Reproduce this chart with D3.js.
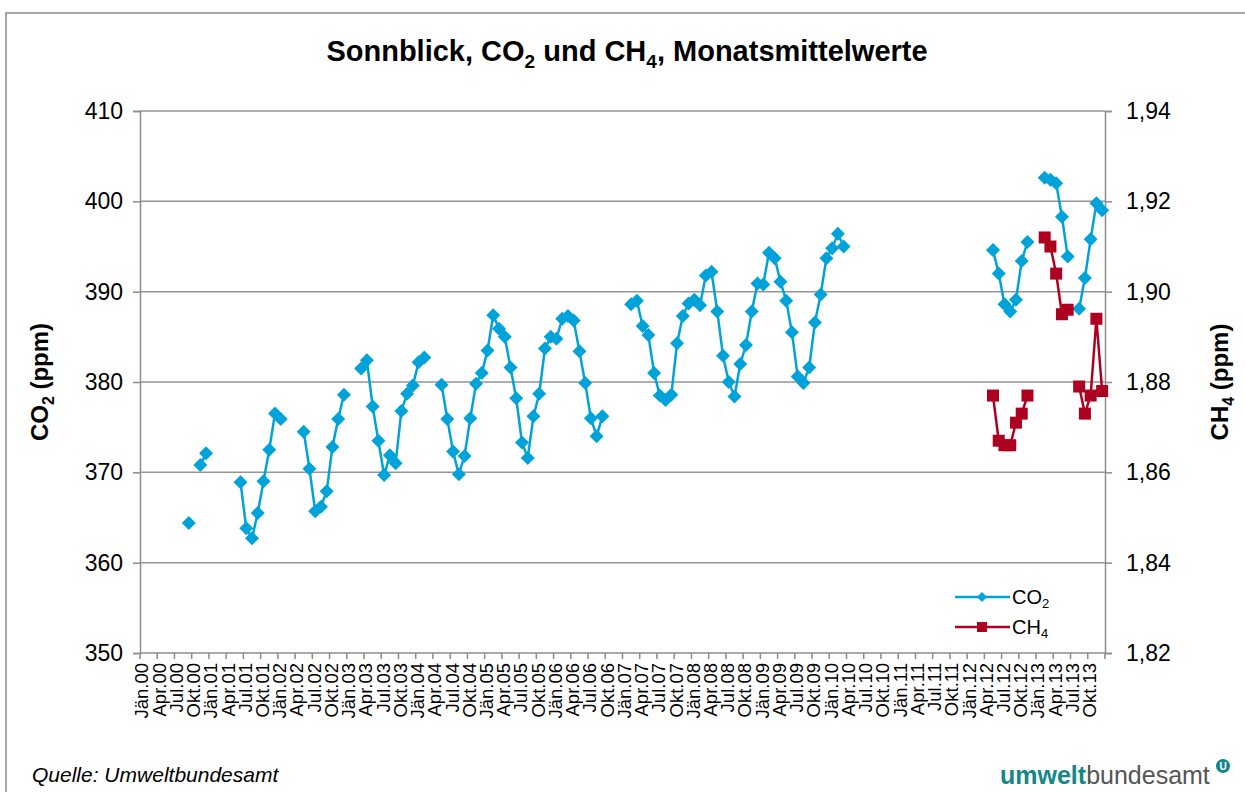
<!DOCTYPE html>
<html>
<head>
<meta charset="utf-8">
<script src="https://cdn.jsdelivr.net/npm/d3@7"></script>
<style>
  body { margin: 0; background: #fff; }
  text { font-family: Arial, "Liberation Sans", sans-serif; }
</style>
</head>
<body>
<div id="chart"></div>
<script>
// months Jan 2000 .. Dec 2013, one value per month (null = no value)
var years = ["00","01","02","03","04","05","06","07","08","09","10","11","12","13"];
var tickMonths = ["Jän","Apr","Jul","Okt"];   // every 3rd month gets a label

var co2 = [
  null,null,null,null,null,null,null,null,364.4,null,370.8,372.1,          // 2000
  null,null,null,null,null,368.9,363.8,362.7,365.5,369.0,372.5,376.5,      // 2001
  375.9,null,null,null,374.5,370.4,365.7,366.2,367.9,372.8,375.9,378.6,    // 2002
  null,null,381.5,382.4,377.3,373.5,369.7,371.9,371.0,376.8,378.7,379.6,   // 2003
  382.2,382.7,null,null,379.7,375.9,372.3,369.8,371.8,376.0,379.8,381.0,   // 2004
  383.5,387.4,385.9,385.0,381.6,378.2,373.3,371.6,376.2,378.7,383.7,385.0, // 2005
  384.8,387.0,387.3,386.8,383.4,379.9,376.0,374.0,376.2,null,null,null,    // 2006
  null,388.6,389.0,386.2,385.2,381.0,378.5,378.0,378.6,384.3,387.3,388.7,  // 2007
  389.1,388.5,391.8,392.2,387.8,382.9,380.0,378.4,382.0,384.1,387.8,390.9, // 2008
  390.8,394.3,393.7,391.1,389.0,385.5,380.6,379.9,381.6,386.6,389.7,393.7, // 2009
  394.8,396.4,395.0,null,null,null,null,null,null,null,null,null,          // 2010
  null,null,null,null,null,null,null,null,null,null,null,null,             // 2011
  null,null,null,null,394.6,392.0,388.6,387.8,389.1,393.4,395.5,null,      // 2012
  null,402.6,402.4,402.0,398.3,393.9,null,388.1,391.5,395.8,399.8,399.0    // 2013
];

var ch4 = [];
for (var k = 0; k < 144; k++) ch4.push(null);   // no CH4 values before 2012
ch4 = ch4.concat([
  null,null,null,null,1.877,1.867,1.866,1.866,1.871,1.873,1.877,null,      // 2012
  null,1.912,1.910,1.904,1.895,1.896,null,1.879,1.873,1.877,1.894,1.878    // 2013
]);

var co2Ticks = [350,360,370,380,390,400,410];
var ch4Ticks = [1.82,1.84,1.86,1.88,1.90,1.92,1.94];

var width = 1245, height = 792;
var plotLeft = 140, plotRight = 1105, plotTop = 111, plotBottom = 653;
var blue = "#00a3d9", red = "#ae0020";
var axisGrey = "#8c8c8c";

var svg = d3.select("#chart").append("svg")
    .attr("width", width)
    .attr("height", height);

// outer frame
svg.append("rect")
    .attr("x", 6).attr("y", 13)
    .attr("width", 1260).attr("height", 800)
    .attr("fill", "none")
    .attr("stroke", axisGrey)
    .attr("stroke-width", 1.5);

var x = d3.scaleBand()
    .domain(d3.range(co2.length))
    .range([plotLeft, plotRight])
    .padding(0);

var y = d3.scaleLinear().domain([350, 410]).range([plotBottom, plotTop]);
var y2 = d3.scaleLinear().domain([1.82, 1.94]).range([plotBottom, plotTop]);

function cx(i) { return x(i) + x.bandwidth() / 2; }

// gridlines
svg.append("g").selectAll("line")
    .data(co2Ticks.slice(1))
    .enter().append("line")
    .attr("x1", plotLeft).attr("x2", plotRight)
    .attr("y1", function(d){ return y(d); })
    .attr("y2", function(d){ return y(d); })
    .attr("stroke", "#959595")
    .attr("stroke-width", 1.5);

// left axis
var yAxis = d3.axisLeft(y).tickValues(co2Ticks).tickSize(7).tickPadding(10);
var gy = svg.append("g").attr("transform", "translate(" + plotLeft + ",0)").call(yAxis);
gy.select(".domain").attr("stroke", axisGrey).attr("stroke-width", 1.5);
gy.selectAll(".tick line").attr("stroke", axisGrey).attr("stroke-width", 1.5);
gy.selectAll(".tick text").attr("font-size", 23).attr("fill", "#000")
    .style("font-family", "Arial, 'Liberation Sans', sans-serif");

// right axis
var y2Axis = d3.axisRight(y2).tickValues(ch4Ticks).tickSize(7).tickPadding(14)
    .tickFormat(function(d){ return d3.format(".2f")(d).replace(".", ","); });
var gy2 = svg.append("g").attr("transform", "translate(" + plotRight + ",0)").call(y2Axis);
gy2.select(".domain").attr("stroke", axisGrey).attr("stroke-width", 1.5);
gy2.selectAll(".tick line").attr("stroke", axisGrey).attr("stroke-width", 1.5);
gy2.selectAll(".tick text").attr("font-size", 23).attr("fill", "#000")
    .style("font-family", "Arial, 'Liberation Sans', sans-serif");

// bottom axis
svg.append("line")
    .attr("x1", plotLeft).attr("x2", plotRight)
    .attr("y1", plotBottom).attr("y2", plotBottom)
    .attr("stroke", axisGrey).attr("stroke-width", 1.5);

var tickIdx = d3.range(0, co2.length + 1, 3);
svg.append("g").selectAll("line")
    .data(tickIdx)
    .enter().append("line")
    .attr("x1", function(i){ return plotLeft + i * x.bandwidth(); })
    .attr("x2", function(i){ return plotLeft + i * x.bandwidth(); })
    .attr("y1", plotBottom).attr("y2", plotBottom + 6)
    .attr("stroke", axisGrey).attr("stroke-width", 1.5);

var labels = [];
years.forEach(function(yr, yi){
    tickMonths.forEach(function(m, mi){
        labels.push({ i: yi * 12 + mi * 3, t: m + "." + yr });
    });
});

svg.append("g").selectAll("text")
    .data(labels)
    .enter().append("text")
    .attr("transform", function(d){ return "translate(" + (cx(d.i) + 5.5) + "," + (plotBottom + 10) + ") rotate(-90)"; })
    .attr("text-anchor", "end")
    .attr("font-size", 18.5)
    .text(function(d){ return d.t; });

// series
var co2Pts = co2.map(function(v, i){ return { i: i, v: v }; });
var ch4Pts = ch4.map(function(v, i){ return { i: i, v: v }; });

var lineCo2 = d3.line()
    .defined(function(d){ return d.v != null; })
    .x(function(d){ return cx(d.i); })
    .y(function(d){ return y(d.v); });

var lineCh4 = d3.line()
    .defined(function(d){ return d.v != null; })
    .x(function(d){ return cx(d.i); })
    .y(function(d){ return y2(d.v); });

svg.append("path")
    .datum(co2Pts)
    .attr("d", lineCo2)
    .attr("fill", "none")
    .attr("stroke", blue)
    .attr("stroke-width", 2.5);

var diamond = "M0,-7L7,0L0,7L-7,0Z";
svg.append("g").selectAll("path")
    .data(co2Pts.filter(function(d){ return d.v != null; }))
    .enter().append("path")
    .attr("d", diamond)
    .attr("transform", function(d){ return "translate(" + cx(d.i) + "," + y(d.v) + ")"; })
    .attr("fill", blue);

svg.append("path")
    .datum(ch4Pts)
    .attr("d", lineCh4)
    .attr("fill", "none")
    .attr("stroke", red)
    .attr("stroke-width", 2.5);

svg.append("g").selectAll("rect")
    .data(ch4Pts.filter(function(d){ return d.v != null; }))
    .enter().append("rect")
    .attr("x", function(d){ return cx(d.i) - 6; })
    .attr("y", function(d){ return y2(d.v) - 6; })
    .attr("width", 12).attr("height", 12)
    .attr("fill", red);

// title
var title = svg.append("text")
    .attr("x", 627).attr("y", 61)
    .attr("text-anchor", "middle")
    .attr("font-size", 29)
    .attr("font-weight", "bold");
title.append("tspan").text("Sonnblick, CO");
title.append("tspan").attr("font-size", 19).attr("dy", 7).text("2");
title.append("tspan").attr("dy", -7).text(" und CH");
title.append("tspan").attr("font-size", 19).attr("dy", 7).text("4");
title.append("tspan").attr("dy", -7).text(", Monatsmittelwerte");

// axis titles
var t1 = svg.append("text")
    .attr("transform", "translate(48,382) rotate(-90)")
    .attr("text-anchor", "middle")
    .attr("font-size", 24)
    .attr("font-weight", "bold");
t1.append("tspan").text("CO");
t1.append("tspan").attr("font-size", 16).attr("dy", 6).text("2");
t1.append("tspan").attr("dy", -6).text(" (ppm)");

var t2 = svg.append("text")
    .attr("transform", "translate(1228,382) rotate(-90)")
    .attr("text-anchor", "middle")
    .attr("font-size", 24)
    .attr("font-weight", "bold");
t2.append("tspan").text("CH");
t2.append("tspan").attr("font-size", 16).attr("dy", 6).text("4");
t2.append("tspan").attr("dy", -6).text(" (ppm)");

// legend
var legend = [
    { name: "CO", sub: "2", color: blue, shape: "diamond", yy: 597 },
    { name: "CH", sub: "4", color: red, shape: "square", yy: 627 }
];
legend.forEach(function(l){
    svg.append("line")
        .attr("x1", 955).attr("x2", 1010)
        .attr("y1", l.yy).attr("y2", l.yy)
        .attr("stroke", l.color).attr("stroke-width", 2.5);
    if (l.shape == "diamond") {
        svg.append("path").attr("d", "M0,-5L5,0L0,5L-5,0Z")
            .attr("transform", "translate(982," + l.yy + ")")
            .attr("fill", l.color);
    } else {
        svg.append("rect").attr("x", 977).attr("y", l.yy - 5)
            .attr("width", 10).attr("height", 10)
            .attr("fill", l.color);
    }
    var lt = svg.append("text")
        .attr("x", 1012).attr("y", l.yy + 7)
        .attr("font-size", 20);
    lt.append("tspan").text(l.name);
    lt.append("tspan").attr("font-size", 13).attr("dy", 4).text(l.sub);
});

// footer
svg.append("text")
    .attr("x", 32).attr("y", 782)
    .attr("font-size", 21)
    .attr("font-style", "italic")
    .text("Quelle: Umweltbundesamt");

var logo = svg.append("text")
    .attr("x", 1000).attr("y", 784)
    .attr("font-size", 25);
logo.append("tspan").attr("font-weight", "bold").attr("fill", "#15878a").text("umwelt");
logo.append("tspan").attr("fill", "#555").text("bundesamt");

svg.append("circle")
    .attr("cx", 1223).attr("cy", 766).attr("r", 7)
    .attr("fill", "#15878a");
svg.append("text")
    .attr("x", 1223).attr("y", 770)
    .attr("text-anchor", "middle")
    .attr("font-size", 10)
    .attr("font-weight", "bold")
    .attr("fill", "#fff")
    .text("U");
</script>
</body>
</html>
